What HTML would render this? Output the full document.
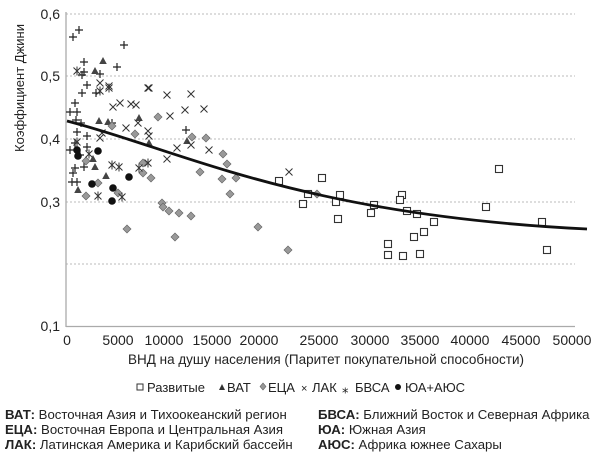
<!DOCTYPE html>
<html><head><meta charset="utf-8"><style>
html,body{margin:0;padding:0;background:#fff;width:600px;height:457px;overflow:hidden}
svg{display:block}
text{font-family:"Liberation Sans",Arial,sans-serif;fill:#222}
</style></head><body>
<svg width="600" height="457" viewBox="0 0 600 457" xmlns="http://www.w3.org/2000/svg">
<defs>
<rect id="sq" x="-3.5" y="-3.5" width="7" height="7" fill="#fff" stroke="#333" stroke-width="1.1"/>
<path id="tr" d="M0,-4 L3.8,3 L-3.8,3 Z" fill="#444"/>
<path id="dm" d="M0,-4 L4,0 L0,4 L-4,0 Z" fill="#999" stroke="#666" stroke-width="0.7"/>
<path id="x" d="M-3.5,-3.5 L3.5,3.5 M-3.5,3.5 L3.5,-3.5" stroke="#333" stroke-width="1"/>
<path id="pl" d="M-4,0 L4,0 M0,-4 L0,4" stroke="#222" stroke-width="1.2"/>
<path id="as" d="M-3.5,-3.5 L3.5,3.5 M-3.5,3.5 L3.5,-3.5 M0,-4.5 L0,4.5" stroke="#333" stroke-width="1"/>
<circle id="ci" r="3.8" fill="#111"/>
</defs>
<g stroke="#bbb" stroke-dasharray="2,2" stroke-width="1">
<line x1="66" y1="14" x2="575" y2="14"/>
<line x1="66" y1="76" x2="575" y2="76"/>
<line x1="66" y1="139" x2="575" y2="139"/>
<line x1="66" y1="202" x2="575" y2="202"/>
<line x1="66" y1="264" x2="575" y2="264"/>
</g>
<line x1="66" y1="12" x2="66" y2="327" stroke="#aaa" stroke-width="1.3"/>
<line x1="66" y1="326.5" x2="575" y2="326.5" stroke="#aaa" stroke-width="1.3"/>
<g font-size="14" text-anchor="end">
<text x="60" y="19">0,6</text>
<text x="60" y="81">0,5</text>
<text x="60" y="144">0,4</text>
<text x="60" y="207">0,3</text>
<text x="60" y="331">0,1</text>
</g>
<text transform="translate(24,88) rotate(-90)" font-size="13" text-anchor="middle">Коэффициент Джини</text>
<g font-size="14" text-anchor="middle">
<text x="67" y="345">0</text><text x="118" y="345">5000</text><text x="164" y="345">10000</text>
<text x="212" y="345">15000</text><text x="259" y="345">20000</text><text x="319" y="345">25000</text>
<text x="370" y="345">30000</text><text x="420" y="345">35000</text><text x="470" y="345">40000</text>
<text x="521" y="345">45000</text><text x="572" y="345">50000</text>
</g>
<text x="326" y="364" font-size="13.8" text-anchor="middle" textLength="396" lengthAdjust="spacingAndGlyphs">ВНД на душу населения (Паритет покупательной способности)</text>
<g>
<use href="#sq" x="322" y="178"/><use href="#sq" x="308" y="194"/><use href="#sq" x="303" y="204"/><use href="#sq" x="340" y="195"/><use href="#sq" x="336" y="202"/><use href="#sq" x="338" y="219"/><use href="#sq" x="374" y="205"/><use href="#sq" x="371" y="213"/><use href="#sq" x="402" y="195"/><use href="#sq" x="400" y="200"/><use href="#sq" x="407" y="211"/><use href="#sq" x="417" y="214"/><use href="#sq" x="434" y="222"/><use href="#sq" x="388" y="244"/><use href="#sq" x="388" y="255"/><use href="#sq" x="403" y="256"/><use href="#sq" x="414" y="237"/><use href="#sq" x="424" y="232"/><use href="#sq" x="420" y="254"/><use href="#sq" x="486" y="207"/><use href="#sq" x="499" y="169"/><use href="#sq" x="542" y="222"/><use href="#sq" x="547" y="250"/><use href="#sq" x="279" y="181"/>
<use href="#pl" x="73" y="37"/><use href="#pl" x="79" y="30"/><use href="#pl" x="124" y="45"/><use href="#pl" x="84" y="62"/><use href="#pl" x="84" y="72"/><use href="#pl" x="117" y="67"/><use href="#pl" x="87" y="85"/><use href="#pl" x="82" y="93"/><use href="#pl" x="96" y="93"/><use href="#pl" x="100" y="74"/><use href="#pl" x="75" y="103"/><use href="#pl" x="70" y="112"/><use href="#pl" x="77" y="112"/><use href="#pl" x="81" y="123"/><use href="#pl" x="77" y="132"/><use href="#pl" x="87" y="136"/><use href="#pl" x="75" y="143"/><use href="#pl" x="87" y="147"/><use href="#pl" x="70" y="150"/><use href="#pl" x="80" y="155"/><use href="#pl" x="75" y="168"/><use href="#pl" x="84" y="167"/><use href="#pl" x="73" y="173"/><use href="#pl" x="72" y="182"/><use href="#pl" x="77" y="182"/><use href="#pl" x="112" y="123"/><use href="#pl" x="186" y="130"/><use href="#pl" x="82" y="75"/><use href="#pl" x="76" y="120"/>
<use href="#tr" x="103" y="61"/><use href="#tr" x="95" y="71"/><use href="#tr" x="99" y="121"/><use href="#tr" x="108" y="122"/><use href="#tr" x="139" y="118"/><use href="#tr" x="149" y="143"/><use href="#tr" x="93" y="159"/><use href="#tr" x="95" y="167"/><use href="#tr" x="106" y="176"/><use href="#tr" x="78" y="190"/><use href="#tr" x="187" y="141"/>
<use href="#dm" x="158" y="117"/><use href="#dm" x="135" y="134"/><use href="#dm" x="112" y="126"/><use href="#dm" x="143" y="163"/><use href="#dm" x="151" y="178"/><use href="#dm" x="143" y="173"/><use href="#dm" x="98" y="183"/><use href="#dm" x="86" y="196"/><use href="#dm" x="118" y="193"/><use href="#dm" x="162" y="203"/><use href="#dm" x="163" y="207"/><use href="#dm" x="169" y="211"/><use href="#dm" x="179" y="213"/><use href="#dm" x="191" y="216"/><use href="#dm" x="127" y="229"/><use href="#dm" x="192" y="137"/><use href="#dm" x="206" y="138"/><use href="#dm" x="223" y="154"/><use href="#dm" x="227" y="164"/><use href="#dm" x="200" y="172"/><use href="#dm" x="222" y="179"/><use href="#dm" x="236" y="178"/><use href="#dm" x="230" y="194"/><use href="#dm" x="258" y="227"/><use href="#dm" x="86" y="161"/><use href="#dm" x="175" y="237"/><use href="#dm" x="288" y="250"/><use href="#dm" x="317" y="194"/>
<use href="#x" x="100" y="83"/><use href="#x" x="109" y="86"/><use href="#x" x="149" y="88"/><use href="#x" x="167" y="95"/><use href="#x" x="191" y="94"/><use href="#x" x="113" y="107"/><use href="#x" x="120" y="103"/><use href="#x" x="131" y="104"/><use href="#x" x="136" y="105"/><use href="#x" x="185" y="110"/><use href="#x" x="170" y="116"/><use href="#x" x="204" y="109"/><use href="#x" x="126" y="128"/><use href="#x" x="138" y="123"/><use href="#x" x="148" y="131"/><use href="#x" x="149" y="136"/><use href="#x" x="177" y="148"/><use href="#x" x="191" y="145"/><use href="#x" x="209" y="150"/><use href="#x" x="167" y="159"/><use href="#x" x="100" y="138"/><use href="#x" x="289" y="172"/><use href="#x" x="102" y="133"/><use href="#x" x="148" y="88"/>
<use href="#as" x="77" y="71"/><use href="#as" x="100" y="91"/><use href="#as" x="109" y="88"/><use href="#as" x="77" y="142"/><use href="#as" x="89" y="154"/><use href="#as" x="112" y="165"/><use href="#as" x="119" y="167"/><use href="#as" x="139" y="168"/><use href="#as" x="148" y="163"/><use href="#as" x="122" y="197"/><use href="#as" x="98" y="196"/>
<use href="#ci" x="78" y="156"/><use href="#ci" x="98" y="151"/><use href="#ci" x="92" y="184"/><use href="#ci" x="113" y="188"/><use href="#ci" x="129" y="177"/><use href="#ci" x="112" y="201"/><use href="#ci" x="77" y="150"/>
</g>
<path d="M67,121 C180,150 300,215 587,229" fill="none" stroke="#111" stroke-width="2.8"/>
<g font-size="13">
<rect x="137" y="384" width="6" height="6" fill="#fff" stroke="#333"/><text x="147" y="392">Развитые</text>
<path d="M219,390 L222,384 L225,390Z" fill="#333"/><text x="227" y="392">ВАТ</text>
<path d="M263,383 L266,386.5 L263,390 L260,386.5Z" fill="#999" stroke="#666" stroke-width="0.6"/><text x="268" y="392">ЕЦА</text>
<text x="301" y="392" font-size="11">×</text><text x="312" y="392">ЛАК</text>
<text x="342" y="393" font-size="13">⁎</text><text x="355" y="392">БВСА</text>
<circle cx="398" cy="387" r="3" fill="#111"/><text x="405" y="392">ЮА+АЮС</text>
</g>
<g font-size="13.2">
<text x="5" y="419"><tspan font-weight="bold">ВАТ:</tspan> Восточная Азия и Тихоокеанский регион</text>
<text x="5" y="434"><tspan font-weight="bold">ЕЦА:</tspan> Восточная Европа и Центральная Азия</text>
<text x="5" y="449"><tspan font-weight="bold">ЛАК:</tspan> Латинская Америка и Карибский бассейн</text>
<text x="318" y="419"><tspan font-weight="bold">БВСА:</tspan> Ближний Восток и Северная Африка</text>
<text x="318" y="434"><tspan font-weight="bold">ЮА:</tspan> Южная Азия</text>
<text x="318" y="449"><tspan font-weight="bold">АЮС:</tspan> Африка южнее Сахары</text>
</g>
</svg>
</body></html>
